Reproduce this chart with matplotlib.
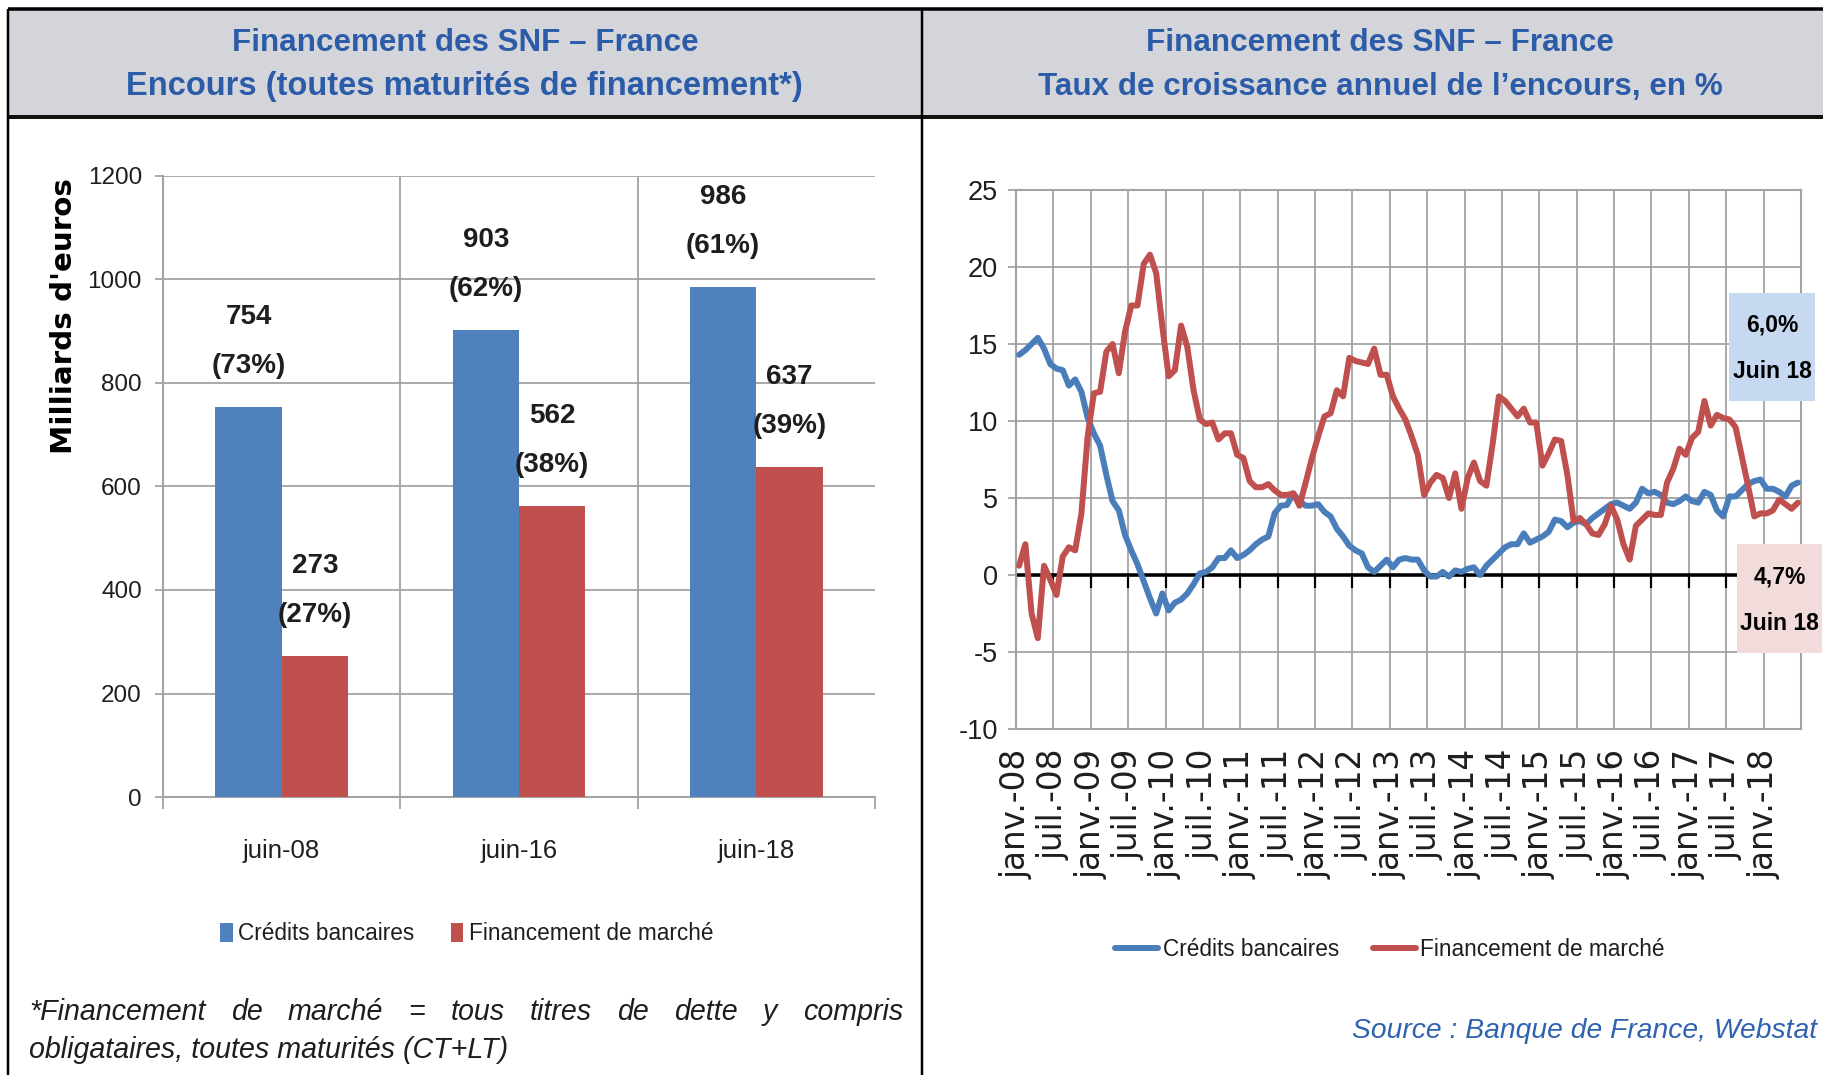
import numpy as np
import matplotlib
matplotlib.use("Agg")
import matplotlib.pyplot as plt
from matplotlib import font_manager as fm
from matplotlib.patches import Rectangle

# ---------------- data ----------------
bar_categories = ["juin-08", "juin-16", "juin-18"]
credits_encours = [754, 903, 986]
marche_encours = [273, 562, 637]
credits_share = [73, 62, 61]
marche_share = [27, 38, 39]
bar_yticks = [0, 200, 400, 600, 800, 1000, 1200]

month_labels = ["janv.-08", "juil.-08", "janv.-09", "juil.-09", "janv.-10", "juil.-10",
                "janv.-11", "juil.-11", "janv.-12", "juil.-12", "janv.-13", "juil.-13",
                "janv.-14", "juil.-14", "janv.-15", "juil.-15", "janv.-16", "juil.-16",
                "janv.-17", "juil.-17", "janv.-18"]
growth_yticks = [-10, -5, 0, 5, 10, 15, 20, 25]

# monthly annual growth rates, janv.-08 .. juin-18
credits_growth = [
    14.3, 14.6, 15.0, 15.4, 14.7, 13.7, 13.4, 13.3, 12.3, 12.7,
    11.9, 10.2, 9.2, 8.4, 6.5, 4.8, 4.2, 2.6, 1.6, 0.7,
    -0.4, -1.5, -2.5, -1.2, -2.3, -1.8, -1.6, -1.2, -0.6, 0.1,
    0.2, 0.5, 1.1, 1.1, 1.6, 1.1, 1.3, 1.6, 2.0, 2.3,
    2.5, 4.0, 4.5, 4.55, 5.3, 4.8, 4.5, 4.5, 4.6, 4.1,
    3.8, 3.0, 2.5, 1.9, 1.6, 1.4, 0.5, 0.2, 0.6, 1.0,
    0.5, 1.0, 1.1, 1.0, 1.0, 0.3, -0.1, -0.1, 0.2, -0.1,
    0.3, 0.2, 0.4, 0.5, 0.0, 0.6, 1.0, 1.4, 1.8, 2.0,
    2.0, 2.7, 2.1, 2.3, 2.5, 2.8, 3.6, 3.5, 3.1, 3.4,
    3.5, 3.3, 3.7, 4.0, 4.3, 4.6, 4.7, 4.5, 4.3, 4.7,
    5.6, 5.3, 5.4, 5.2, 4.7, 4.6, 4.8, 5.1, 4.8, 4.7,
    5.4, 5.2, 4.2, 3.8, 5.1, 5.1, 5.5, 5.9, 6.1, 6.2,
    5.6, 5.6, 5.4, 5.1, 5.8, 6.0]
marche_growth = [
    0.6, 2.0, -2.5, -4.1, 0.6, -0.3, -1.3, 1.2, 1.8, 1.6,
    4.0, 9.0, 11.8, 11.9, 14.5, 15.0, 13.1, 15.8, 17.5, 17.5,
    20.2, 20.8, 19.6, 16.1, 12.9, 13.3, 16.2, 14.8, 12.0, 10.1,
    9.8, 9.9, 8.8, 9.2, 9.2, 7.8, 7.6, 6.1, 5.7, 5.7,
    5.9, 5.5, 5.2, 5.2, 5.3, 4.5, 6.0, 7.6, 9.0, 10.3,
    10.5, 12.0, 11.6, 14.1, 13.9, 13.8, 13.7, 14.7, 13.0, 13.0,
    11.6, 10.8, 10.1, 9.0, 7.8, 5.2, 6.0, 6.5, 6.3, 5.0,
    6.6, 4.3, 6.3, 7.3, 6.1, 5.8, 8.5, 11.6, 11.3, 10.8,
    10.3, 10.8, 9.9, 9.9, 7.1, 7.9, 8.8, 8.7, 6.5, 3.5,
    3.7, 3.3, 2.7, 2.6, 3.3, 4.5, 3.6, 2.0, 1.0, 3.2,
    3.6, 4.0, 3.9, 3.9, 6.0, 6.9, 8.2, 7.8, 8.9, 9.3,
    11.3, 9.7, 10.4, 10.2, 10.1, 9.6, 7.7, 5.8, 3.8, 4.0,
    4.0, 4.2, 4.9, 4.6, 4.3, 4.7]

series_names = ["Crédits bancaires", "Financement de marché"]
last_credits_label = "6,0%"
last_marche_label = "4,7%"
last_period_label = "Juin 18"

title_left = ["Financement des SNF – France", "Encours (toutes maturités de financement*)"]
title_right = ["Financement des SNF – France", "Taux de croissance annuel de l’encours, en %"]
footnote_1 = "*Financement de marché = tous titres de dette y compris"
footnote_2 = "obligataires, toutes maturités (CT+LT)"
source_text = "Source : Banque de France, Webstat"
ylabel_left = "Milliards d'euros"

# ---------------- style ----------------
avail = {f.name for f in fm.fontManager.ttflist}
NARROW = next((f for f in ["Liberation Sans Narrow", "DejaVu Sans Condensed"] if f in avail),
              "Liberation Sans")
plt.rcParams["font.family"] = [NARROW, "DejaVu Sans"]
plt.rcParams["axes.unicode_minus"] = False

BLUE_BAR = "#4F81BD"
RED_BAR = "#C0504D"
BLUE_LINE = "#4A7EBB"
RED_LINE = "#C0504D"
GRID = "#A3A3A3"
TITLE_C = "#2C5CA8"
TXT = "#1E1E1E"

W, H = 1824, 1075
fig = plt.figure(figsize=(W / 100, H / 100), dpi=100)


def rect(x0, y0, x1, y1):
    return [x0 / W, 1 - y1 / H, (x1 - x0) / W, (y1 - y0) / H]


def pt(px):
    return px * 0.72


# background layer
bg = fig.add_axes([0, 0, 1, 1], zorder=0)
bg.set_xlim(0, W)
bg.set_ylim(H, 0)
bg.axis("off")
bg.add_patch(Rectangle((8, 9), W - 8, 108, facecolor="#D3D5DA", edgecolor="none"))
bg.plot([8, W], [9, 9], color="black", lw=pt(3.5), solid_capstyle="butt")
bg.plot([8, W], [117, 117], color="#111111", lw=pt(4), solid_capstyle="butt")
bg.plot([8, 8], [9, H], color="black", lw=pt(2.5), solid_capstyle="butt")
bg.plot([922, 922], [9, H], color="black", lw=pt(2.5), solid_capstyle="butt")

# overlay layer
ov = fig.add_axes([0, 0, 1, 1], zorder=5)
ov.set_xlim(0, W)
ov.set_ylim(H, 0)
ov.axis("off")
ov.patch.set_alpha(0)

renderer = fig.canvas.get_renderer()


def fit_w(t, target):
    bb = t.get_window_extent(renderer)
    t.set_fontsize(t.get_fontsize() * target / bb.width)
    return t


def fit_h(t, target):
    bb = t.get_window_extent(renderer)
    t.set_fontsize(t.get_fontsize() * target / bb.height)
    return t


# titles
for (txt, cx, cy, w) in [(title_left[0], 465, 43, 465), (title_left[1], 464, 87, 677),
                         (title_right[0], 1380, 43, 467), (title_right[1], 1380, 87, 684)]:
    t = ov.text(cx, cy, txt, ha="center", va="center", fontsize=26, fontweight="bold",
                color=TITLE_C)
    fit_w(t, w)

# legend font size: "Crédits bancaires" spans ~171 px in the reference
probe = ov.text(0, 0, series_names[0], fontsize=20)
fit_w(probe, 176)
LEG_FS = probe.get_fontsize()
probe.remove()

# ---------------- left chart ----------------
ax1 = fig.add_axes(rect(163, 176, 875, 797), zorder=1)
x = np.arange(len(bar_categories))
bw = 0.28
b1 = ax1.bar(x - bw / 2, credits_encours, bw, color=BLUE_BAR, label=series_names[0], zorder=3)
b2 = ax1.bar(x + bw / 2, marche_encours, bw, color=RED_BAR, label=series_names[1], zorder=3)
ax1.set_xlim(-0.5, len(bar_categories) - 0.5)
ax1.set_ylim(0, 1200)
ax1.set_yticks(bar_yticks)
ax1.set_yticklabels([str(v) for v in bar_yticks])
ax1.set_xticks(x)
ax1.set_xticklabels(bar_categories)
ax1.set_xticks(np.arange(len(bar_categories) + 1) - 0.5, minor=True)
ax1.yaxis.grid(True, color=GRID, lw=1.3, zorder=0)
for b in np.arange(1, len(bar_categories)) - 0.5:
    ax1.axvline(b, color=GRID, lw=1.3, zorder=0)
for s in ["top", "right"]:
    ax1.spines[s].set_visible(False)
for s in ["left", "bottom"]:
    ax1.spines[s].set_color(GRID)
    ax1.spines[s].set_linewidth(1.5)
ax1.tick_params(axis="y", length=pt(8), color=GRID, width=1.3, pad=pt(13), labelsize=17.5,
                labelcolor=TXT)
ax1.tick_params(axis="x", which="major", length=0, pad=pt(42), labelsize=18.5, labelcolor=TXT)
ax1.tick_params(axis="x", which="minor", length=pt(12), color=GRID, width=1.3)

for bars, vals, shares in [(b1, credits_encours, credits_share), (b2, marche_encours, marche_share)]:
    for rct, v, sh in zip(bars, vals, shares):
        cx = rct.get_x() + rct.get_width() / 2
        ax1.annotate(str(v), (cx, v), xytext=(0, pt(90)), textcoords="offset points",
                     ha="center", va="center", fontsize=20, fontweight="bold", color=TXT)
        ax1.annotate(f"({sh}%)", (cx, v), xytext=(0, pt(41)), textcoords="offset points",
                     ha="center", va="center", fontsize=20, fontweight="bold", color=TXT)

ov.text(64, 316, ylabel_left, rotation=90, ha="center", va="center", fontsize=19,
        fontweight="bold", family=["DejaVu Sans"], color="black")
fit_h(ov.texts[-1], 276)

leg1 = ax1.legend(loc="center", bbox_to_anchor=(467 / W, 1 - 934 / H),
                  bbox_transform=fig.transFigure, ncol=2, frameon=False, fontsize=LEG_FS,
                  handlelength=0.55, handleheight=0.95, handletextpad=0.25, columnspacing=1.6,
                  borderpad=0)
for t in leg1.get_texts():
    t.set_color(TXT)

# footnote (justified first line)
t2 = ov.text(29, 1050, footnote_2, ha="left", va="center", fontsize=20, style="italic", color=TXT)
fit_w(t2, 479)
fs_note = t2.get_fontsize()
words = footnote_1.split(" ")
wts = [ov.text(0, 1012, w_, ha="left", va="center", fontsize=fs_note, style="italic", color=TXT)
       for w_ in words]
widths = [t.get_window_extent(renderer).width for t in wts]
gap = (903 - 29 - sum(widths)) / (len(words) - 1)
xpos = 29
for t, wd in zip(wts, widths):
    t.set_x(xpos)
    xpos += wd + gap

# ---------------- right chart ----------------
ax2 = fig.add_axes(rect(1016, 190, 1801, 729), zorder=1)
n = len(credits_growth)
xm = np.arange(n) + 0.5
ax2.plot(xm, credits_growth, color=BLUE_LINE, lw=pt(6.0), solid_joinstyle="round",
         solid_capstyle="round", label=series_names[0], zorder=3)
ax2.plot(xm, marche_growth, color=RED_LINE, lw=pt(6.0), solid_joinstyle="round",
         solid_capstyle="round", label=series_names[1], zorder=4)
ax2.set_xlim(0, 6 * len(month_labels))
ax2.set_ylim(growth_yticks[0], growth_yticks[-1])
xt = np.arange(0, 6 * len(month_labels) + 1, 6)
ax2.set_xticks(xt)
ax2.set_xticklabels(month_labels + [""], family=["DejaVu Sans"])
ax2.set_yticks(growth_yticks)
ax2.set_yticklabels([str(v) for v in growth_yticks])
ax2.grid(True, color=GRID, lw=1.3, zorder=0)
for s in ax2.spines.values():
    s.set_color(GRID)
    s.set_linewidth(1.5)
ax2.tick_params(axis="x", length=0, pad=pt(20), labelsize=23.5, labelrotation=90, labelcolor=TXT)
ax2.tick_params(axis="y", length=pt(8), color=GRID, width=1.3, pad=pt(10), labelsize=19.5,
                labelcolor=TXT)
ax2.axhline(0, color="black", lw=pt(3.6), zorder=2)
ax2.vlines(xt[:-1], -0.85, 0, color="black", lw=pt(2.2), zorder=2)

leg2 = ax2.legend(loc="center", bbox_to_anchor=(1390 / W, 1 - 949 / H),
                  bbox_transform=fig.transFigure, ncol=2, frameon=False, fontsize=LEG_FS,
                  handlelength=1.9, handletextpad=0.2, columnspacing=1.5, borderpad=0)
for t in leg2.get_texts():
    t.set_color(TXT)

# end-value boxes
ov.add_patch(Rectangle((1729, 293), 86, 108, facecolor="#C6D9F1", edgecolor="none"))
ov.add_patch(Rectangle((1737, 544), 85, 109, facecolor="#F2DCDB", edgecolor="none"))
for (txt, cx, cy) in [(last_credits_label, 1772, 325), (last_period_label, 1772, 372),
                      (last_marche_label, 1780, 577), (last_period_label, 1779, 623)]:
    ov.text(cx, cy, txt, ha="center", va="center", fontsize=16.5, fontweight="bold",
            color="black")

ts = ov.text(1817, 1031, source_text, ha="right", va="center", fontsize=20, style="italic",
             color="#2F62B0")
fit_w(ts, 464)

fig.savefig("out.png", dpi=100)
